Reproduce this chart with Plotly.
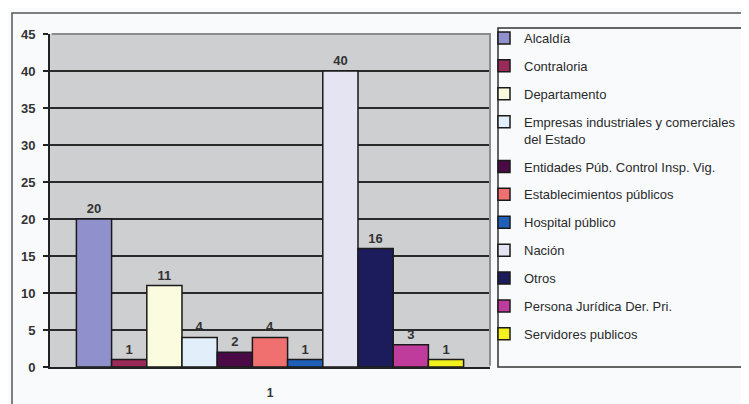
import plotly.graph_objects as go

# categories (legend entries) and their counts
entidades = ["Alcaldía", "Contraloria", "Departamento",
             "Empresas industriales y comerciales<br>del Estado",
             "Entidades Púb. Control Insp. Vig.", "Establecimientos públicos",
             "Hospital público", "Nación", "Otros",
             "Persona Jurídica Der. Pri.", "Servidores publicos"]
valores = [20, 1, 11, 4, 2, 4, 1, 40, 16, 3, 1]
colores = ["#9090cc", "#9a2a58", "#fbfbe0", "#e2eefa", "#4a0a46", "#f07070",
           "#2060b8", "#e4e4f2", "#1c1c5c", "#c03c9c", "#f4f020"]
grupo = ["1"]
y_ticks = [0, 5, 10, 15, 20, 25, 30, 35, 40, 45]

FONT = "Liberation Sans, Arial"

fig = go.Figure()
for i, nombre in enumerate(entidades):
    fig.add_trace(go.Bar(
        x=grupo, y=[valores[i]], name=nombre, legendgroup=str(i),
        marker=dict(color=colores[i], line=dict(color="#1a1a1a", width=1.5)),
        text=[str(valores[i])], textposition="outside", cliponaxis=False,
        textfont=dict(family=FONT, size=13, color="#333333", weight="bold"),
    ))

# the page body adds an 8px margin, so the figure is 8px smaller than the window
# screen coords -> paper coords (plot area on screen: x 50..490, y 34..367)
def px(x):
    return (x - 50) / 440.0

def py(y):
    return (367 - y) / 333.0

fig.update_layout(
    width=741, height=396,
    margin=dict(l=42, r=259, t=26, b=37, autoexpand=False),
    paper_bgcolor="#f8fafc", plot_bgcolor="#cdcfd1",
    barmode="group", bargap=0.12, bargroupgap=0,
    showlegend=True,
    font=dict(family=FONT, size=12, color="#333333"),
    legend=dict(x=px(484), y=py(23), xanchor="left", yanchor="top",
                bgcolor="rgba(0,0,0,0)", borderwidth=0,
                font=dict(size=13, color="#2a2a2a"),
                tracegroupgap=8, valign="top", itemclick=False,
                maxheight=800),
    xaxis=dict(type="category", showgrid=False, ticks="", ticklabelstandoff=14,
               tickfont=dict(size=12, color="#333333", weight="bold"),
               showline=True, linecolor="#222222", linewidth=2),
    yaxis=dict(range=[0, 45], tickvals=y_ticks, ticks="outside", ticklen=5,
               tickcolor="#222222", tickwidth=1.5,
               showgrid=True, gridcolor="#2a2a2a", gridwidth=1.5,
               zeroline=False, showline=True, linecolor="#222222", linewidth=2,
               tickfont=dict(size=13, color="#333333", weight="bold"),
               ticklabelstandoff=5),
    shapes=[
        # outer chart border
        dict(type="rect", xref="paper", yref="paper",
             x0=px(12), x1=px(760), y0=py(420), y1=py(13),
             line=dict(color="#555555", width=1.5), layer="below"),
        # lighter top/right edge of the plot area
        dict(type="path", xref="paper", yref="paper",
             path="M 0.004,1 L 1,1 L 1,0.004",
             line=dict(color="#8a8c8e", width=2), layer="above"),
        # legend box
        dict(type="rect", xref="paper", yref="paper",
             x0=px(498), x1=px(760), y0=0, y1=py(28),
             line=dict(color="#333333", width=1.5), fillcolor="rgba(0,0,0,0)"),
    ],
)

fig.write_html("out.html")
